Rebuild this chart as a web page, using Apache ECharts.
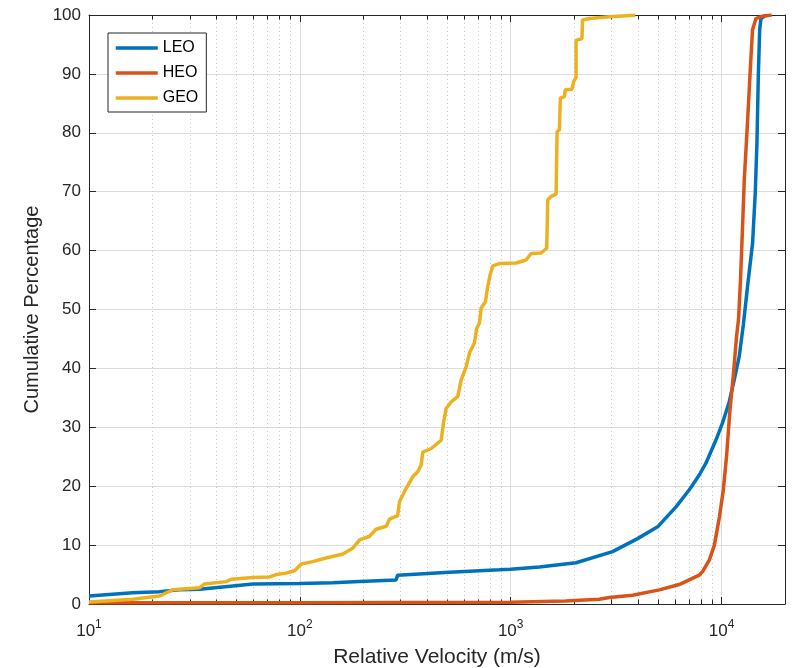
<!DOCTYPE html>
<html>
<head>
<meta charset="utf-8">
<script src="https://cdn.jsdelivr.net/npm/echarts@6/dist/echarts.min.js"></script>
<style>
html,body{margin:0;padding:0;background:#fff;}
#chart{width:793px;height:668px;}
</style>
</head>
<body>
<div id="chart"></div>
<script>
// ---- Data ----
var seriesNames = ['LEO', 'HEO', 'GEO'];

var leoX = [10, 16.1, 21.6, 26.9, 33.5, 48.1, 59.9, 99.6, 143, 192, 286, 291, 297, 512, 884, 1000, 1368, 2042, 3042, 3998, 4977, 6082, 7035, 7840, 8432, 9397, 10100, 10870, 11480, 12130, 12700, 13290, 14030, 14450, 14720, 14940, 15170, 15380, 16300];
var leoY = [1.36, 1.9, 2.1, 2.4, 2.5, 3.06, 3.4, 3.5, 3.6, 3.8, 4.07, 4.9, 5.0, 5.4, 5.8, 5.9, 6.3, 7.0, 8.9, 11.1, 13.1, 16.5, 19.4, 21.9, 23.9, 27.8, 30.7, 34.3, 38.0, 42.0, 47.5, 54.0, 61.2, 69.7, 78.2, 89.5, 97.5, 99.4, 100];

var heoX = [10, 100, 1000, 1822, 2630, 2937, 3784, 5070, 6295, 7840, 8130, 8760, 9250, 9775, 10200, 10560, 10960, 11360, 11780, 12050, 12300, 12550, 12820, 13290, 13770, 14030, 14560, 15600, 17300];
var heoY = [0.2, 0.22, 0.3, 0.5, 0.8, 1.1, 1.5, 2.4, 3.3, 4.9, 5.5, 7.5, 10.0, 14.8, 19.4, 25.0, 32.9, 38.6, 45.4, 48.5, 55.0, 63.0, 72.0, 82.0, 92.4, 97.5, 99.4, 99.8, 100];

var geoX = [10, 16.1, 21.6, 24.9, 33.5, 35.3, 44.8, 47.3, 59.9, 71.8, 77.2, 85, 94.4, 101.6, 115, 133, 160, 178, 192, 214, 230, 257, 266, 291, 297, 319, 343, 363, 376, 383, 420, 468, 480, 494, 522, 561, 582, 615, 637, 673, 690, 711, 724, 759, 778, 799, 822, 884, 1061, 1183, 1250, 1394, 1482, 1499, 1555, 1642, 1660, 1702, 1720, 1796, 1816, 1953, 1989, 2042, 2042, 2179, 2191, 2360, 2937, 3900];
var geoY = [0.34, 0.8, 1.36, 2.4, 2.77, 3.4, 3.8, 4.2, 4.5, 4.6, 5.0, 5.2, 5.65, 6.8, 7.2, 7.8, 8.5, 9.45, 10.9, 11.5, 12.7, 13.2, 14.4, 15.0, 17.4, 19.6, 21.6, 22.5, 23.6, 25.8, 26.4, 27.8, 30.7, 33.2, 34.3, 35.2, 38.0, 40.3, 42.6, 44.3, 46.8, 47.7, 50.2, 51.3, 53.9, 55.9, 57.4, 57.8, 57.9, 58.4, 59.5, 59.6, 60.4, 68.6, 69.2, 69.6, 80.2, 80.5, 85.9, 86.1, 87.3, 87.4, 88.7, 89.4, 95.7, 96.0, 99.15, 99.4, 99.7, 99.95];

// x-axis minor grid/tick positions (log decades 2..9)
var minorTicks = [20, 30, 40, 50, 60, 70, 80, 90, 200, 300, 400, 500, 600, 700, 800, 900, 2000, 3000, 4000, 5000, 6000, 7000, 8000, 9000];

var xMin = 10, xMax = 20000;
var yMin = 0, yMax = 100, yStep = 10;

// ---- Build chart ----
function zip(xs, ys) { return xs.map(function (x, i) { return [x, ys[i]]; }); }

var axisColor = '#262626';
var font = 'Liberation Sans, Arial, Helvetica, sans-serif';
var colors = ['#0072BD', '#D95319', '#EDB120'];

var chart = echarts.init(document.getElementById('chart'), null, {renderer: 'canvas'});

var lineSeries = [zip(leoX, leoY), zip(heoX, heoY), zip(geoX, geoY)].map(function (d, i) {
  return {
    name: seriesNames[i],
    type: 'line',
    data: d,
    symbol: 'none',
    smooth: false,
    z: 5 + i,
    lineStyle: {color: colors[i], width: 3.5},
    itemStyle: {color: colors[i]},
    emphasis: {disabled: true},
    animation: false
  };
});

var minorSeries = {
  type: 'custom',
  name: 'minor',
  silent: true,
  z: 1,
  clip: false,
  data: minorTicks.map(function (v) { return [v, 0]; }),
  renderItem: function (params, api) {
    var cs = params.coordSys;
    var x = Math.round(api.coord([api.value(0), 0])[0]) + 0.5;
    var top = cs.y, bot = cs.y + cs.height;
    return {
      type: 'group',
      children: [
        {type: 'line', shape: {x1: x, y1: top, x2: x, y2: bot},
         style: {stroke: '#c8c8c8', lineWidth: 1, lineDash: [1, 3]}},
        {type: 'line', shape: {x1: x, y1: bot, x2: x, y2: bot - 4.5},
         style: {stroke: axisColor, lineWidth: 1}},
        {type: 'line', shape: {x1: x, y1: top, x2: x, y2: top + 4.5},
         style: {stroke: axisColor, lineWidth: 1}}
      ]
    };
  },
  animation: false
};

var option = {
  backgroundColor: '#ffffff',
  animation: false,
  textStyle: {fontFamily: font},
  grid: {left: 89, right: 8, top: 15, bottom: 64, containLabel: false, outerBoundsMode: 'none'},
  legend: {
    data: seriesNames,
    orient: 'vertical',
    left: 108,
    top: 33,
    padding: [7, 8, 6, 6],
    itemWidth: 42,
    itemHeight: 14,
    itemGap: 9,
    itemStyle: {opacity: 0},
    lineStyle: {width: 3.5},
    backgroundColor: '#ffffff',
    borderColor: axisColor,
    borderWidth: 1,
    borderRadius: 0,
    textStyle: {fontSize: 16, color: '#000000', fontFamily: font, lineHeight: 14},
    selectedMode: false
  },
  xAxis: [{
    type: 'log',
    logBase: 10,
    min: xMin,
    max: xMax,
    position: 'bottom',
    name: 'Relative Velocity (m/s)',
    nameLocation: 'middle',
    nameGap: 43,
    nameMoveOverlap: false,
    nameTextStyle: {fontSize: 21, color: axisColor, fontFamily: font},
    axisLine: {show: true, onZero: false, lineStyle: {color: axisColor, width: 1}},
    axisTick: {show: true, inside: true, length: 7, lineStyle: {color: axisColor}},
    axisLabel: {
      margin: 15,
      showMaxLabel: false,
      formatter: function (v) {
        var e = Math.log10(v);
        if (Math.abs(e - Math.round(e)) > 1e-6) return '';
        return '{b|10}{s|' + Math.round(e) + '}';
      },
      rich: {
        b: {fontSize: 17, color: axisColor, fontFamily: font},
        s: {fontSize: 12, color: axisColor, fontFamily: font, padding: [0, 0, 12, 0]}
      }
    },
    splitLine: {show: true, lineStyle: {color: '#dcdcdc', width: 1}},
    minorTick: {show: false},
    minorSplitLine: {show: false}
  }, {
    type: 'log',
    logBase: 10,
    min: xMin,
    max: xMax,
    position: 'top',
    axisLine: {show: true, onZero: false, lineStyle: {color: axisColor, width: 1}},
    axisTick: {show: true, inside: true, length: 7, lineStyle: {color: axisColor}},
    axisLabel: {show: false},
    splitLine: {show: false}
  }],
  yAxis: [{
    type: 'value',
    min: yMin,
    max: yMax,
    interval: yStep,
    position: 'left',
    name: 'Cumulative Percentage',
    nameLocation: 'middle',
    nameGap: 47,
    nameMoveOverlap: false,
    nameTextStyle: {fontSize: 20, color: axisColor, fontFamily: font},
    axisLine: {show: true, lineStyle: {color: axisColor, width: 1}},
    axisTick: {show: true, inside: true, length: 7, lineStyle: {color: axisColor}},
    axisLabel: {fontSize: 17, color: axisColor, margin: 8, fontFamily: font},
    splitLine: {show: true, lineStyle: {color: '#dcdcdc', width: 1}}
  }, {
    type: 'value',
    min: yMin,
    max: yMax,
    interval: yStep,
    position: 'right',
    axisLine: {show: true, lineStyle: {color: axisColor, width: 1}},
    axisTick: {show: true, inside: true, length: 7, lineStyle: {color: axisColor}},
    axisLabel: {show: false},
    splitLine: {show: false}
  }],
  series: [minorSeries].concat(lineSeries)
};

chart.setOption(option);
</script>
</body>
</html>
